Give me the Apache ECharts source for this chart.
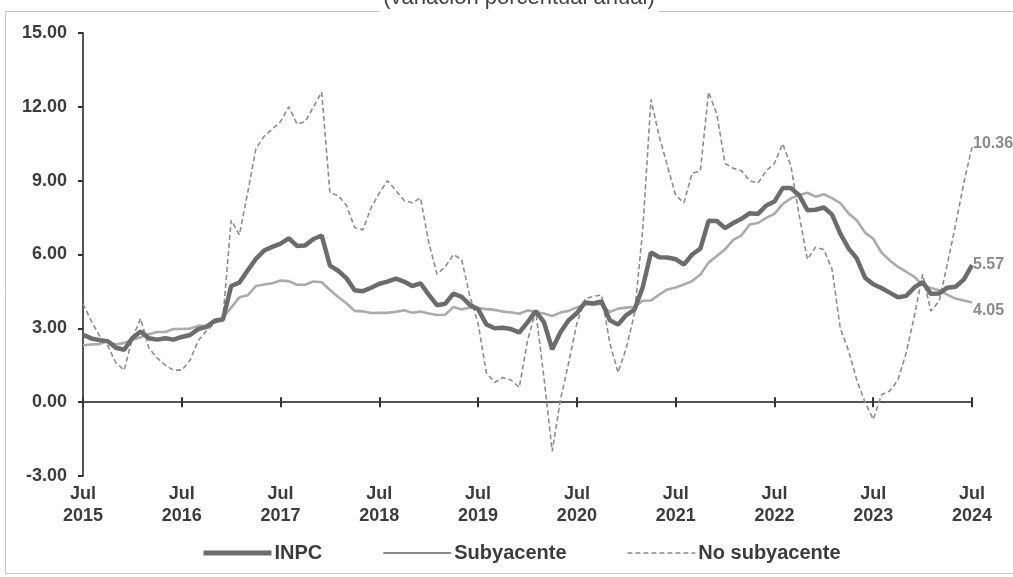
<!DOCTYPE html>
<html>
<head>
<meta charset="utf-8">
<script src="https://cdn.jsdelivr.net/npm/echarts@6/dist/echarts.min.js"></script>
<style>
html,body{margin:0;padding:0;background:#fff;}
#chart{width:1013px;height:577px;}
</style>
</head>
<body>
<div id="chart"></div>
<script>
// Monthly categories Jul 2015 .. Jul 2024
const startYear = 2015, startMonth = 7, monthCount = 109;
const months = [];
for (let k = 0; k < monthCount; k++) {
  const m = (startMonth - 1 + k) % 12 + 1;
  const y = startYear + Math.floor((startMonth - 1 + k) / 12);
  months.push(y + '-' + (m < 10 ? '0' + m : m));
}
const yTicks = [-3, 0, 3, 6, 9, 12, 15];

const inpc = [
  2.74, 2.59, 2.52, 2.48, 2.21, 2.13,
  2.61, 2.87, 2.60, 2.54, 2.60, 2.54, 2.65, 2.73, 2.97, 3.06, 3.31, 3.36,
  4.72, 4.86, 5.35, 5.82, 6.16, 6.31, 6.44, 6.66, 6.35, 6.37, 6.63, 6.77,
  5.55, 5.34, 5.04, 4.55, 4.51, 4.65, 4.81, 4.90, 5.02, 4.90, 4.72, 4.83,
  4.37, 3.94, 4.00, 4.41, 4.28, 3.95, 3.78, 3.16, 3.00, 3.02, 2.97, 2.83,
  3.24, 3.70, 3.25, 2.15, 2.84, 3.33, 3.62, 4.05, 4.01, 4.09, 3.33, 3.15,
  3.54, 3.76, 4.67, 6.08, 5.89, 5.88, 5.81, 5.59, 6.00, 6.24, 7.37, 7.36,
  7.07, 7.28, 7.45, 7.68, 7.65, 7.99, 8.15, 8.70, 8.70, 8.41, 7.80, 7.82,
  7.91, 7.62, 6.85, 6.25, 5.84, 5.06, 4.79, 4.64, 4.45, 4.26, 4.32, 4.66,
  4.88, 4.40, 4.42, 4.65, 4.69, 4.98, 5.57
];
const subyacente = [
  2.31, 2.34, 2.36, 2.47, 2.34, 2.41,
  2.54, 2.64, 2.76, 2.85, 2.85, 2.97, 2.97, 2.99, 3.10, 3.10, 3.29, 3.44,
  3.84, 4.26, 4.34, 4.72, 4.78, 4.83, 4.94, 4.92, 4.77, 4.77, 4.90, 4.87,
  4.56, 4.27, 4.02, 3.71, 3.69, 3.62, 3.63, 3.63, 3.67, 3.73, 3.63, 3.68,
  3.60, 3.54, 3.55, 3.87, 3.77, 3.85, 3.82, 3.78, 3.75, 3.68, 3.65, 3.59,
  3.73, 3.66, 3.60, 3.50, 3.64, 3.71, 3.85, 3.97, 3.99, 3.98, 3.66, 3.80,
  3.84, 3.87, 4.12, 4.13, 4.37, 4.58, 4.66, 4.78, 4.92, 5.19, 5.67, 5.94,
  6.21, 6.59, 6.78, 7.22, 7.28, 7.49, 7.65, 8.05, 8.28, 8.42, 8.51, 8.35,
  8.45, 8.29, 8.09, 7.67, 7.39, 6.89, 6.64, 6.08, 5.76, 5.50, 5.30, 5.09,
  4.76, 4.64, 4.55, 4.37, 4.21, 4.13, 4.05
];
const noSubyacente = [
  4.0, 3.3, 2.7, 2.3, 1.6, 1.3,
  2.6, 3.4, 2.2, 1.8, 1.5, 1.3, 1.3, 1.7, 2.5, 2.9, 3.2, 3.4,
  7.4, 6.8, 8.5, 10.3, 10.8, 11.1, 11.4, 12.0, 11.3, 11.4, 12.0, 12.6,
  8.5, 8.4, 8.0, 7.1, 7.0, 7.9, 8.5, 9.0, 8.6, 8.2, 8.1, 8.3,
  6.5, 5.2, 5.5, 6.0, 5.8, 4.3, 3.2, 1.2, 0.8, 1.0, 0.9, 0.6,
  2.5, 3.7, 1.0, -2.0, 0.1, 1.6, 3.2, 4.2, 4.3, 4.35, 2.4, 1.2,
  2.2, 3.6, 7.0, 12.3, 10.8, 9.6, 8.4, 8.1, 9.3, 9.4, 12.6, 11.7,
  9.7, 9.5, 9.4, 9.0, 8.9, 9.4, 9.7, 10.5, 9.6, 7.6, 5.8, 6.3,
  6.2, 5.4, 3.0, 2.1, 0.9, 0.0, -0.7, 0.3, 0.45, 0.9, 2.0, 3.5,
  5.2, 3.7, 4.1, 5.6, 7.2, 8.9, 10.36
];
const seriesNames = ['INPC', 'Subyacente', 'No subyacente'];
const titleText = '(variación porcentual anual)';

const FONT = '"Liberation Sans", Arial, sans-serif';
const isJul = (i) => i % 12 === 0;

const chart = echarts.init(document.getElementById('chart'), null, {renderer: 'canvas'});
const endLabel = (color, off) => ({
  show: true,
  formatter: (p) => Number(p.value).toFixed(2),
  color: color, fontFamily: FONT, fontSize: 16, fontWeight: 'bold',
  distance: 1, offset: off
});
chart.setOption({
  animation: false,
  backgroundColor: '#fff',
  grid: [
    {left: 83, right: 41, top: 33, bottom: 101, containLabel: false},
    {left: 83, right: 41, top: 33, bottom: 101, containLabel: false}
  ],
  xAxis: [
    { // labels at bottom
      gridIndex: 0, type: 'category', data: months, boundaryGap: false, position: 'bottom',
      axisLine: {show: false, onZero: false}, axisTick: {show: false},
      axisLabel: {
        interval: (i) => isJul(i),
        formatter: (v) => 'Jul\n' + v.slice(0, 4),
        fontFamily: FONT, fontSize: 18, fontWeight: 'bold', color: '#3c3c3c',
        lineHeight: 22, margin: 7
      },
      splitLine: {show: false}
    },
    { // zero line with ticks pointing up
      gridIndex: 0, type: 'category', data: months, boundaryGap: false, position: 'top',
      axisLine: {show: true, onZero: true, lineStyle: {color: '#555', width: 2}},
      axisTick: {show: true, interval: (i) => isJul(i), length: 5, lineStyle: {color: '#333', width: 2}},
      axisLabel: {show: false}, splitLine: {show: false}
    },
    { // ticks pointing down on zero line
      gridIndex: 1, type: 'category', data: months, boundaryGap: false, position: 'bottom',
      axisLine: {show: false, onZero: true},
      axisTick: {show: true, interval: (i) => isJul(i), length: 5, lineStyle: {color: '#333', width: 2}},
      axisLabel: {show: false}, splitLine: {show: false}
    }
  ],
  yAxis: [
    {
      gridIndex: 0, type: 'value', min: yTicks[0], max: yTicks[yTicks.length - 1], interval: 3,
      axisLine: {show: true, lineStyle: {color: '#555', width: 2}},
      axisTick: {show: true, length: 5, lineStyle: {color: '#333', width: 2}},
      axisLabel: {formatter: (v) => v.toFixed(2), fontFamily: FONT, fontSize: 18, fontWeight: 'bold', color: '#3c3c3c', margin: 16},
      splitLine: {show: false}
    },
    {
      gridIndex: 1, type: 'value', min: yTicks[0], max: yTicks[yTicks.length - 1], interval: 3,
      show: false, splitLine: {show: false}
    }
  ],
  legend: {
    data: [
      {name: seriesNames[0], lineStyle: {width: 5, color: '#6c6c6c'}},
      {name: seriesNames[1], lineStyle: {width: 2, color: '#8a8a8a'}},
      {name: seriesNames[2], lineStyle: {width: 1.6, color: '#8c8c8c', type: [5, 3]}}
    ],
    left: 196, top: 538,
    itemWidth: 68, itemHeight: 14, itemGap: 60,
    itemStyle: {opacity: 0},
    textStyle: {fontFamily: FONT, fontSize: 20, fontWeight: 'bold', color: '#3c3c3c', padding: [0, 0, 0, -2]},
    selectedMode: false
  },
  series: [
    {
      name: seriesNames[2], type: 'line', data: noSubyacente, xAxisIndex: 1, yAxisIndex: 0,
      showSymbol: false, symbol: 'none', z: 2,
      lineStyle: {color: '#8c8c8c', width: 1.6, type: [5, 3]}, itemStyle: {color: '#8c8c8c'},
      endLabel: endLabel('#8a8a8a', [0, -4])
    },
    {
      name: seriesNames[1], type: 'line', data: subyacente, xAxisIndex: 1, yAxisIndex: 0,
      showSymbol: false, symbol: 'none', z: 3,
      lineStyle: {color: '#ababab', width: 2.6}, itemStyle: {color: '#ababab'},
      endLabel: endLabel('#8a8a8a', [0, 8])
    },
    {
      name: seriesNames[0], type: 'line', data: inpc, xAxisIndex: 1, yAxisIndex: 0,
      showSymbol: false, symbol: 'none', z: 4,
      lineStyle: {color: '#6c6c6c', width: 4.5}, itemStyle: {color: '#6c6c6c'},
      endLabel: endLabel('#8a8a8a', [0, 0])
    }
  ],
  graphic: [
    {type: 'rect', z: 0, silent: true, shape: {x: 5.5, y: 11.5, width: 1030, height: 562},
     style: {fill: 'none', stroke: '#c4c4c4', lineWidth: 1}},
    {type: 'text', z: 10, silent: true, x: 519, y: -13,
     style: {text: titleText, fontFamily: FONT, fontSize: 22, fill: '#444', align: 'center',
             backgroundColor: '#fff', padding: [0, 4, 3, 4]}}
  ]
});
</script>
</body>
</html>
